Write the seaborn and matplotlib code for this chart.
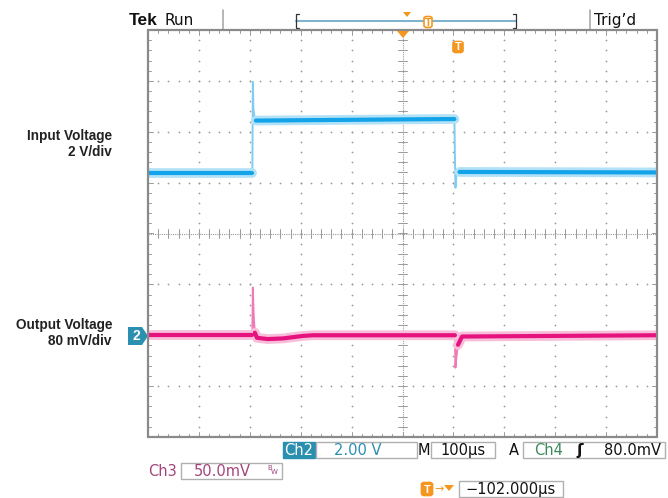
import numpy as np
import pandas as pd
import matplotlib
matplotlib.use("Agg")
import matplotlib.pyplot as plt
import seaborn as sns
from matplotlib.patches import Rectangle, Polygon, FancyBboxPatch

time_per_div_us = 100.0
input_scale_v_per_div = 2.0
output_scale_mv_per_div = 80.0
output_offset_div = -2.0

time_in_us = [0, 205, 206, 207, 209, 212, 222, 400, 600, 602, 603, 604, 606, 612, 1000]
input_v = [2.36, 2.36, 5.96, 4.90, 4.60, 4.44, 4.44, 4.47, 4.50, 4.50, 3.00, 1.80, 2.30, 2.42, 2.40]

time_out_us = [0, 205, 206, 207, 208, 210, 214, 235, 265, 285, 305, 325, 602, 603, 604, 605, 609, 617, 1000]
output_mv = [0, 0, 75, 45, 25, 4, -4, -6, -5, -3, -1, 0, 0, 0, -51, -40, -15, -2, 0]

channel_labels = ["Input Voltage\n2 V/div", "Output Voltage\n80 mV/div"]

# ---------------- setup ----------------
sns.set_theme(style="white")
plt.rcParams["font.family"] = ["Liberation Sans", "DejaVu Sans"]

W, H = 668, 498
fig = plt.figure(figsize=(W / 100, H / 100), dpi=100)
fig.patch.set_facecolor("white")


def fx(x):
    return x / W


def fy(y):
    return 1 - y / H


L, T, R, B = 148, 30, 657, 437
ax = fig.add_axes([fx(L), fy(B), (R - L) / W, (B - T) / H])
ax.set_facecolor("white")
for s in ax.spines.values():
    s.set_visible(False)

grey = "#9a9a9a"
# graticule dots
ys_dots = np.arange(-4, 4.001, 0.2)
xs_dots = np.arange(0, 1000.1, 20)
for k in range(1, 10):
    if k == 5:
        continue
    ax.scatter(np.full_like(ys_dots, k * 100), ys_dots, s=1.6, color=grey, linewidths=0, zorder=1)
for k in range(-3, 4):
    if k == 0:
        continue
    ax.scatter(xs_dots, np.full_like(xs_dots, k, dtype=float), s=1.6, color=grey, linewidths=0, zorder=1)

# centre crosshair
ax.plot([500, 500], [-4, 4], color=grey, lw=0.8, ls=(0, (1, 1)), zorder=1)
ax.plot([0, 1000], [0, 0], color=grey, lw=0.8, ls=(0, (1, 1)), zorder=1)
for yv in ys_dots:
    ax.plot([492, 508], [yv, yv], color=grey, lw=0.7, zorder=1)
for xv in xs_dots:
    ax.plot([xv, xv], [-0.08, 0.08], color=grey, lw=0.7, zorder=1)

# frame ticks
for xv in xs_dots:
    ln = 0.1 if abs(xv % 100) < 1e-6 else 0.05
    ax.plot([xv, xv], [4, 4 - ln], color=grey, lw=0.7, zorder=1)
    ax.plot([xv, xv], [-4, -4 + ln], color=grey, lw=0.7, zorder=1)
for yv in ys_dots:
    ln = 10 if abs(yv - round(yv)) < 1e-6 else 5
    ax.plot([0, ln], [yv, yv], color=grey, lw=0.7, zorder=1)
    ax.plot([1000, 1000 - ln], [yv, yv], color=grey, lw=0.7, zorder=1)

frame = Rectangle((fx(L), fy(B)), (R - L) / W, (B - T) / H, transform=fig.transFigure,
                  fill=False, edgecolor="#8a8a8a", lw=1.6, zorder=5)
fig.add_artist(frame)

# ---------------- traces ----------------
df_in = pd.DataFrame({"t": time_in_us, "y": np.array(input_v) / input_scale_v_per_div})
df_out = pd.DataFrame({"t": time_out_us,
                       "y": np.array(output_mv) / output_scale_mv_per_div + output_offset_div})

# settled (noisy band) stretches of each trace, in µs
in_windows = [(0, 205), (212, 602), (612, 1000)]
out_windows = [(0, 205), (210, 603), (609, 1000)]


def banded(df, windows):
    parts = []
    for i, (a, b) in enumerate(windows):
        p = df[(df.t >= a) & (df.t <= b)].copy()
        p["seg"] = i
        parts.append(p)
    return pd.concat(parts)


def draw(df, windows, light, core, thin):
    sns.lineplot(data=df, x="t", y="y", ax=ax, color=thin, lw=1.4, estimator=None,
                 sort=False, zorder=3)
    bd = banded(df, windows)
    sns.lineplot(data=bd, x="t", y="y", units="seg", ax=ax, color=light, lw=7,
                 estimator=None, sort=False, zorder=3)
    sns.lineplot(data=bd, x="t", y="y", units="seg", ax=ax, color=core, lw=3,
                 estimator=None, sort=False, zorder=4)


draw(df_in, in_windows, "#b3e1f8", "#12a3e8", "#7fcdf2")
draw(df_out, out_windows, "#f8bdd9", "#e6137f", "#f07ab5")

ax.set_xlabel("")
ax.set_ylabel("")
ax.set_xticks([])
ax.set_yticks([])
ax.set_xlim(0, 10 * time_per_div_us)
ax.set_ylim(-4, 4)

# ---------------- left labels ----------------
lab_font = dict(fontsize=9.8, fontweight="bold", color="#222222", ha="right", va="center")
fig.text(fx(112), fy(144), channel_labels[0], linespacing=1.25, **lab_font)
fig.text(fx(112), fy(333), channel_labels[1], linespacing=1.25, **lab_font)

teal = "#2b8fb0"
orange = "#f5961e"

# channel 2 marker
mk = Polygon([(fx(128), fy(327)), (fx(142), fy(327)), (fx(148), fy(336)),
              (fx(142), fy(345)), (fx(128), fy(345))], closed=True,
             transform=fig.transFigure, facecolor=teal, edgecolor="none")
fig.add_artist(mk)
fig.text(fx(136), fy(336.5), "2", color="white", fontsize=10, fontweight="bold",
         ha="center", va="center")

# ---------------- top bar ----------------
fig.text(fx(129), fy(20), "Tek", fontsize=12.5, fontweight="bold", color="#111111",
         ha="left", va="center")
fig.text(fx(164), fy(20), "Run", fontsize=11, color="#111111", ha="left", va="center",
         family=["DejaVu Sans"])
for xs in (223, 590):
    fig.add_artist(plt.Line2D([fx(xs), fx(xs)], [fy(10), fy(30)], transform=fig.transFigure,
                              color="#aaaaaa", lw=1.2))
fig.text(fx(594), fy(20), "Trig\u2019d", fontsize=11, color="#111111", ha="left", va="center",
         family=["DejaVu Sans"])
# record bracket
fig.add_artist(plt.Line2D([fx(296), fx(516)], [fy(21), fy(21)], transform=fig.transFigure,
                          color="#7fb4cc", lw=1.5))
for xb, d in ((296, 1), (516, -1)):
    fig.add_artist(plt.Line2D([fx(xb + 3 * d), fx(xb), fx(xb), fx(xb + 3 * d)],
                              [fy(14), fy(14), fy(28), fy(28)], transform=fig.transFigure,
                              color="#333333", lw=0.9))
fig.add_artist(Polygon([(fx(403), fy(12)), (fx(411), fy(12)), (fx(407), fy(17))], closed=True,
                       transform=fig.transFigure, facecolor=orange, edgecolor="none"))


def t_icon(x, y, w, h, filled):
    bx = FancyBboxPatch((fx(x - w / 2), fy(y + h / 2)), w / W, h / H,
                        boxstyle="round,pad=0,rounding_size=0.004", transform=fig.transFigure,
                        facecolor=orange if filled else "white", edgecolor=orange, lw=1.2, zorder=6)
    fig.add_artist(bx)
    fig.text(fx(x), fy(y + 0.5), "T", color="white" if filled else orange, fontsize=8,
             fontweight="bold", ha="center", va="center", zorder=7)


t_icon(428, 22, 8, 11, False)
# markers on the graticule
fig.add_artist(Polygon([(fx(397), fy(31)), (fx(409), fy(31)), (fx(403), fy(38))], closed=True,
                       transform=fig.transFigure, facecolor=orange, edgecolor="none", zorder=6))
t_icon(458, 47, 10, 11, True)

# ---------------- bottom readouts ----------------
mono = ["DejaVu Sans"]


def box(x0, y0, x1, y1, fc="white", ec="#b0b0b0"):
    fig.add_artist(Rectangle((fx(x0), fy(y1)), (x1 - x0) / W, (y1 - y0) / H,
                             transform=fig.transFigure, facecolor=fc, edgecolor=ec, lw=1.0))


def txt(x, y, s, color="#111111", size=10.5, ha="left", **kw):
    fig.text(fx(x), fy(y), s, color=color, fontsize=size, ha=ha, va="center", family=mono, **kw)


box(283, 442, 315, 458, fc=teal, ec=teal)
txt(299, 450, "Ch2", color="white", ha="center")
box(316, 442, 417, 458)
txt(334, 450, "2.00 V", color=teal)
txt(418, 450, "M")
box(431, 442, 495, 458)
txt(463, 450, "100µs", ha="center")
txt(509, 450, "A")
box(523, 442, 665, 458)
txt(534, 450, "Ch4", color="#3a8a5a")
txt(580, 450, "\u0283", size=11, fontweight="bold", ha="center")
txt(661, 450, "80.0mV", ha="right")

purple = "#a3457c"
txt(148, 471, "Ch3", color=purple)
box(181, 463, 282, 479)
txt(194, 471, "50.0mV", color=purple)
txt(267, 468, "B", color=purple, size=5)
txt(271, 472, "W", color=purple, size=5)

t_icon(427, 489, 11, 13, True)
txt(434, 489, "\u2192", color=orange, size=8)
fig.add_artist(Polygon([(fx(444), fy(485)), (fx(454), fy(485)), (fx(449), fy(491))], closed=True,
                       transform=fig.transFigure, facecolor=orange, edgecolor="none"))
box(459, 481, 563, 497)
txt(511, 489, "\u2212102.000µs", ha="center")

fig.savefig("out.png", dpi=100, facecolor="white")
